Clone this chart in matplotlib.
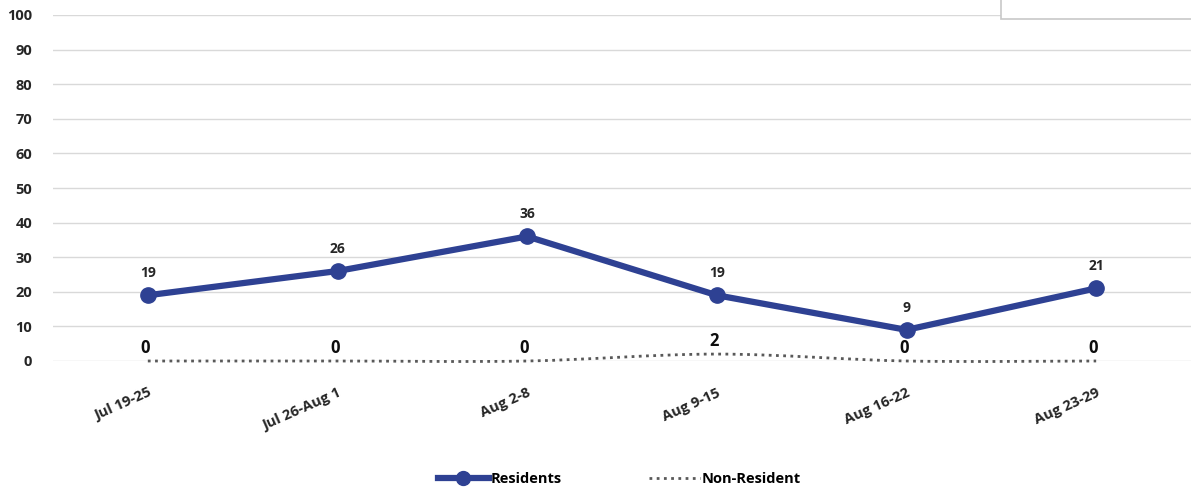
import numpy as np
import matplotlib.pyplot as plt
from matplotlib.path import Path
from matplotlib.patches import PathPatch, Rectangle
from matplotlib.lines import Line2D

plt.rcParams['font.family'] = ['Open Sans', 'DejaVu Sans']

weeks = ['Jul 19-25', 'Jul 26-Aug 1', 'Aug 2-8', 'Aug 9-15', 'Aug 16-22', 'Aug 23-29']
residents = [19, 26, 36, 19, 9, 21]
non_resident = [0, 0, 0, 2, 0, 0]

BLUE = '#2E4193'
GREY = '#595959'


def smooth_path(xs, ys, tension=1 / 6):
    # Catmull-Rom -> cubic bezier, like Excel's smoothed line
    pts = np.column_stack([xs, ys]).astype(float)
    verts = [pts[0]]
    codes = [Path.MOVETO]
    n = len(pts)
    for i in range(n - 1):
        p0 = pts[max(i - 1, 0)]
        p1 = pts[i]
        p2 = pts[i + 1]
        p3 = pts[min(i + 2, n - 1)]
        c1 = p1 + (p2 - p0) * tension
        c2 = p2 - (p3 - p1) * tension
        verts += [c1, c2, p2]
        codes += [Path.CURVE4] * 3
    return Path(verts, codes)


fig = plt.figure(figsize=(11.91, 4.93), dpi=100)
ax = fig.add_axes([53 / 1191, 1 - 361 / 493, 1 - 53 / 1191, 346 / 493])

x = np.arange(len(weeks))
ax.set_xlim(-0.5, len(weeks) - 0.5)
ax.set_ylim(0, 100)
ax.set_yticks(range(0, 101, 10))
ax.yaxis.grid(True, color='#d9d9d9', linewidth=1)
ax.set_axisbelow(True)
for s in ax.spines.values():
    s.set_visible(False)
ax.tick_params(axis='both', length=0)
ax.tick_params(axis='y', pad=15, labelsize=10.5, labelcolor='#262626')
for lbl in ax.get_yticklabels():
    lbl.set_fontweight('bold')

ax.set_xticks(x)
ax.set_xticklabels(weeks, rotation=24, ha='right', rotation_mode='anchor',
                   fontsize=10.5, fontweight='bold', color='#262626')
ax.tick_params(axis='x', pad=18)

# Non-Resident smoothed dotted line
patch = PathPatch(smooth_path(x, non_resident), fill=False, edgecolor=GREY,
                  linewidth=2, linestyle=(0, (1, 1.6)), clip_on=False)
ax.add_patch(patch)

ax.plot(x, residents, color=BLUE, linewidth=4.5, marker='o', markersize=11,
        solid_capstyle='round', zorder=3)

for xi, v in zip(x, residents):
    ax.annotate(str(v), (xi, v), xytext=(0, 11), textcoords='offset points',
                ha='center', va='bottom', fontsize=10, fontweight='bold',
                color='#262626')
for xi, v in zip(x, non_resident):
    ax.annotate(str(v), (xi, v), xytext=(-2, 3), textcoords='offset points',
                ha='center', va='bottom', fontsize=12, fontweight='bold',
                color='#0d0d0d')

handles = [
    Line2D([], [], color=BLUE, linewidth=4.5, marker='o', markersize=10),
    Line2D([], [], color=GREY, linewidth=2, linestyle=(0, (1, 1.6))),
]
fig.legend(handles, ['Residents', 'Non-Resident'], loc='center',
           bbox_to_anchor=(0.52, 1 - 479 / 493), ncol=2, frameon=False,
           handlelength=3.5, handletextpad=0.1, columnspacing=6,
           prop={'weight': 'bold', 'size': 10.5})

# cut-off box at top right
fig.patches.append(Rectangle((1001 / 1191, 1 - 19 / 493), 200 / 1191, 30 / 493,
                             transform=fig.transFigure, facecolor='white',
                             edgecolor='#c8c8c8', linewidth=1.2, zorder=5))

fig.savefig('out.png', dpi=100, facecolor='white')
